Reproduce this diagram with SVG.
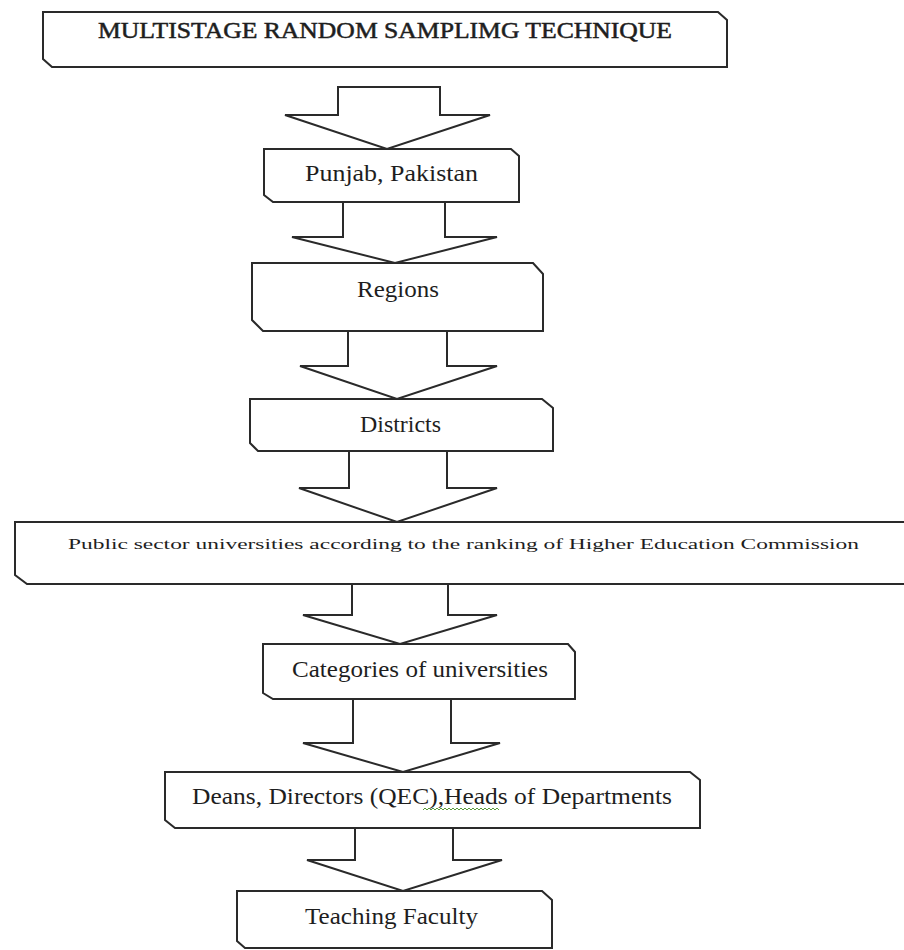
<svg xmlns="http://www.w3.org/2000/svg" width="904" height="950" viewBox="0 0 904 950">
<style>
.box{fill:#fff;stroke:#2a2a2a;stroke-width:2;stroke-linejoin:miter}
.arr{fill:#fff;stroke:#2a2a2a;stroke-width:2;stroke-linejoin:miter}
.t{font-family:"Liberation Serif","Times New Roman",serif;fill:#1e1e1e;font-size:22.5px}
.h{stroke:#1e1e1e;stroke-width:0.5}
.s{font-size:14.5px}
</style>
<rect width="904" height="950" fill="#fff"/>
<g id="connectors">
<polygon class="arr" points="338,87 440,87 440,115 490,115 387,149 285,115 338,115"/>
<polygon class="arr" points="343,202 445,202 445,237 497,237 395,263 292,237 343,237"/>
<polygon class="arr" points="348,331 447,331 447,366 497,366 397,399 300,366 348,366"/>
<polygon class="arr" points="349,451 447,451 447,488 497,488 397,522 299,488 349,488"/>
<polygon class="arr" points="352,584 448,584 448,615 497,615 400,644 303,615 352,615"/>
<polygon class="arr" points="353,699 451,699 451,743 500,743 403,772 303,743 353,743"/>
<polygon class="arr" points="355,828 453,828 453,860 502,860 403,891 307,860 355,860"/>
</g>
<g id="title">
<path class="box" d="M43,12 H718 L727,20 V67 H52 L43,59 Z"/>
<text class="t h" x="98" y="38" textLength="574" lengthAdjust="spacingAndGlyphs">MULTISTAGE RANDOM SAMPLIMG TECHNIQUE</text>
</g>
<g id="punjab">
<path class="box" d="M264,149 H511 L519,156 V202 H273 L264,195 Z"/>
<text class="t" x="305" y="181" textLength="173" lengthAdjust="spacingAndGlyphs">Punjab, Pakistan</text>
</g>
<g id="regions">
<path class="box" d="M252,263 H533 L543,274 V331 H263 L252,320 Z"/>
<text class="t" x="357" y="297" textLength="82" lengthAdjust="spacingAndGlyphs">Regions</text>
</g>
<g id="districts">
<path class="box" d="M250,399 H542 L553,408 V451 H258 L250,443 Z"/>
<text class="t" x="360" y="432" textLength="81" lengthAdjust="spacingAndGlyphs">Districts</text>
</g>
<g id="universities">
<path class="box" d="M15,522 H912 V584 H27 L15,575 Z"/>
<text class="t s" x="68" y="549" textLength="791" lengthAdjust="spacingAndGlyphs">Public sector universities according to the ranking of Higher Education Commission</text>
</g>
<g id="categories">
<path class="box" d="M263,644 H568 L575,652 V699 H273 L263,693 Z"/>
<text class="t" x="292" y="677" textLength="256" lengthAdjust="spacingAndGlyphs">Categories of universities</text>
</g>
<g id="deans">
<path class="box" d="M165,772 H690 L700,780 V828 H175 L165,820 Z"/>
<text class="t" x="192" y="804" textLength="480" lengthAdjust="spacingAndGlyphs">Deans, Directors (QEC),Heads of Departments</text>
<path d="M423,810 l2,-2 l2,2 l2,-2 l2,2 l2,-2 l2,2 l2,-2 l2,2 l2,-2 l2,2 l2,-2 l2,2 l2,-2 l2,2 l2,-2 l2,2 l2,-2 l2,2 l2,-2 l2,2 l2,-2 l2,2 l2,-2 l2,2 l2,-2 l2,2 l2,-2 l2,2 l2,-2 l2,2 l2,-2 l2,2 l2,-2 l2,2 l2,-2 l2,2 l2,-2 l2,2" fill="none" stroke="#5a9a3a" stroke-width="1"/>
</g>
<g id="teaching">
<path class="box" d="M237,891 H542 L552,900 V948 H245 L237,941 Z"/>
<text class="t" x="305" y="924" textLength="173" lengthAdjust="spacingAndGlyphs">Teaching Faculty</text>
</g>
</svg>
